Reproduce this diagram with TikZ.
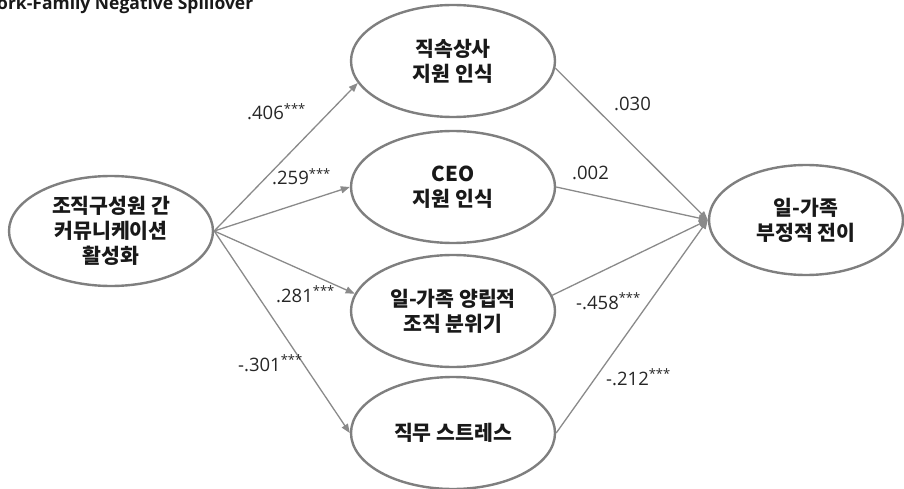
\documentclass[tikz,border=0pt]{standalone}
\usepackage{fontspec}
\setmainfont{Open Sans}
\newfontfamily\kr{Noto Sans CJK KR}
\usetikzlibrary{shapes.geometric,arrows.meta}
\definecolor{ellgray}{HTML}{7F7F7F}
\definecolor{linegray}{HTML}{8A8A8A}
\newcommand\sig{\textsuperscript{***}}
\begin{document}
\begin{tikzpicture}[x=1pt,y=-1pt,
  var/.style={ellipse,draw=ellgray,line width=2.4pt,minimum width=204pt,minimum height=112pt,inner sep=0pt,align=center,font=\kr\bfseries\fontsize{20.5}{25}\selectfont,text=black!90},
  link/.style={draw=linegray,line width=1.3pt,-{Triangle[length=9pt,width=7pt]}},
  coef/.style={anchor=base west,inner sep=0pt,font=\fontsize{18.5}{20}\selectfont,text=black!85}]
\useasboundingbox (0,0) rectangle (904,489);
\clip (0,0) rectangle (904,489);
\node[anchor=base west,inner sep=0pt,font=\bfseries\fontsize{17.5}{17.5}\selectfont,text=black!90] (title) at (-3,10) {ork-Family Negative Spillover};

\node[var,minimum height=110pt] (L) at (111,231) {조직구성원 간\\커뮤니케이션\\활성화};
\node[var] (M1) at (453,61) {직속상사\\지원 인식};
\node[var] (M2) at (453,187) {CEO\\지원 인식};
\node[var] (M3) at (453,311) {일-가족 양립적\\조직 분위기};
\node[var] (M4) at (453,433) {직무 스트레스};
\node[var,minimum width=194pt,minimum height=110pt] (R) at (806,220) {일-가족\\부정적 전이};

\draw[link] (L.east) -- (M1.193);
\draw[link] (L.east) -- (M2.west);
\draw[link] (L.east) -- (M3.170);
\draw[link] (L.east) -- (M4.west);
\draw[link] (M1.356) -- (R.west);
\draw[link] (M2.east) -- (R.west);
\draw[link] (M3.9) -- (R.west);
\draw[link] (M4.east) -- (R.west);

\node[coef] (c1) at (247,120) {.406\sig};
\node[coef] (c2) at (272,185) {.259\sig};
\node[coef] (c3) at (276,302) {.281\sig};
\node[coef] (c4) at (238,371) {-.301\sig};
\node[coef] (c5) at (614,111) {.030};
\node[coef] (c6) at (572,179) {.002};
\node[coef] (c7) at (576,309) {-.458\sig};
\node[coef] (c8) at (606,385) {-.212\sig};
\end{tikzpicture}
\end{document}
